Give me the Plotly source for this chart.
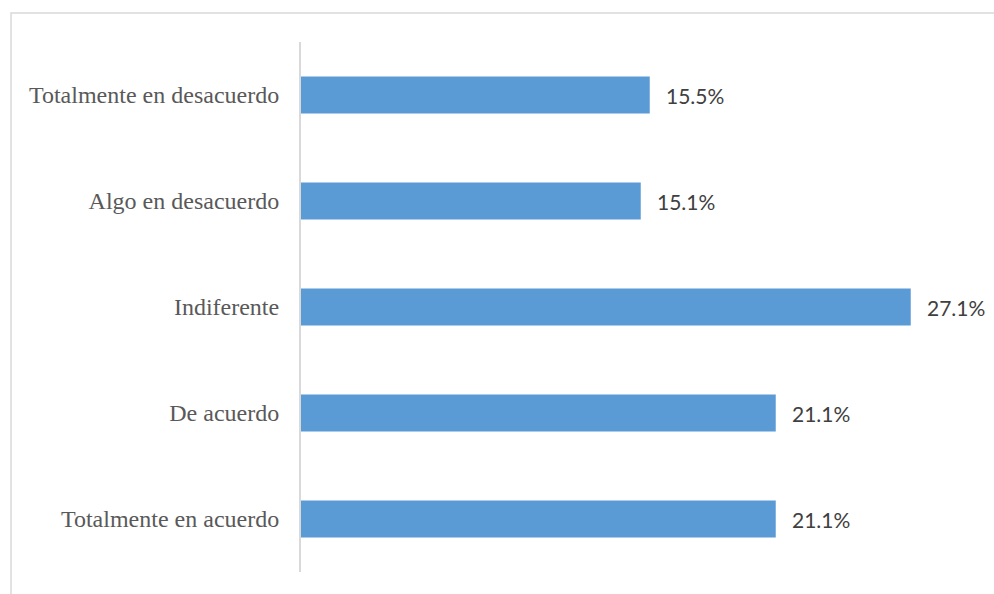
import plotly.graph_objects as go

# Survey response distribution
categories = [
    "Totalmente en desacuerdo",
    "Algo en desacuerdo",
    "Indiferente",
    "De acuerdo",
    "Totalmente en acuerdo",
]
percentages = [15.5, 15.1, 27.1, 21.1, 21.1]
value_labels = [f"{v:.1f}%" for v in percentages]

bar_color = "#5b9bd5"

fig = go.Figure(
    go.Bar(
        x=percentages,
        y=categories,
        orientation="h",
        width=0.35,
        marker=dict(color=bar_color, line=dict(width=0)),
        hoverinfo="skip",
    )
)

# Value labels just to the right of each bar
for v, cat, lbl in zip(percentages, categories, value_labels):
    fig.add_annotation(
        x=v, y=cat, text=lbl, showarrow=False,
        xanchor="left", yanchor="middle", xshift=14,
        font=dict(family="Lato, Open Sans, sans-serif", size=21, color="#404040"),
    )

# Light frame around the chart area
fig.add_shape(
    type="rect", xref="paper", yref="paper",
    x0=-0.4296, x1=1.03, y0=-0.2, y1=1.0547,
    line=dict(color="#d9d9d9", width=1.5), fillcolor="rgba(0,0,0,0)",
    layer="below",
)

fig.update_layout(
    width=994, height=594,
    margin=dict(l=301, r=18, t=42, b=22),
    paper_bgcolor="white", plot_bgcolor="white",
    showlegend=False,
    bargap=0.65,
    xaxis=dict(range=[0, 30], visible=False, fixedrange=True),
    yaxis=dict(
        autorange="reversed",
        showline=True, linecolor="#d9d9d9", linewidth=2,
        showgrid=False, zeroline=False, ticks="",
        ticklabelstandoff=15,
        tickfont=dict(family="Liberation Serif, Times New Roman, serif", size=24, color="#595959"),
    ),
)

fig.write_html("out.html")
